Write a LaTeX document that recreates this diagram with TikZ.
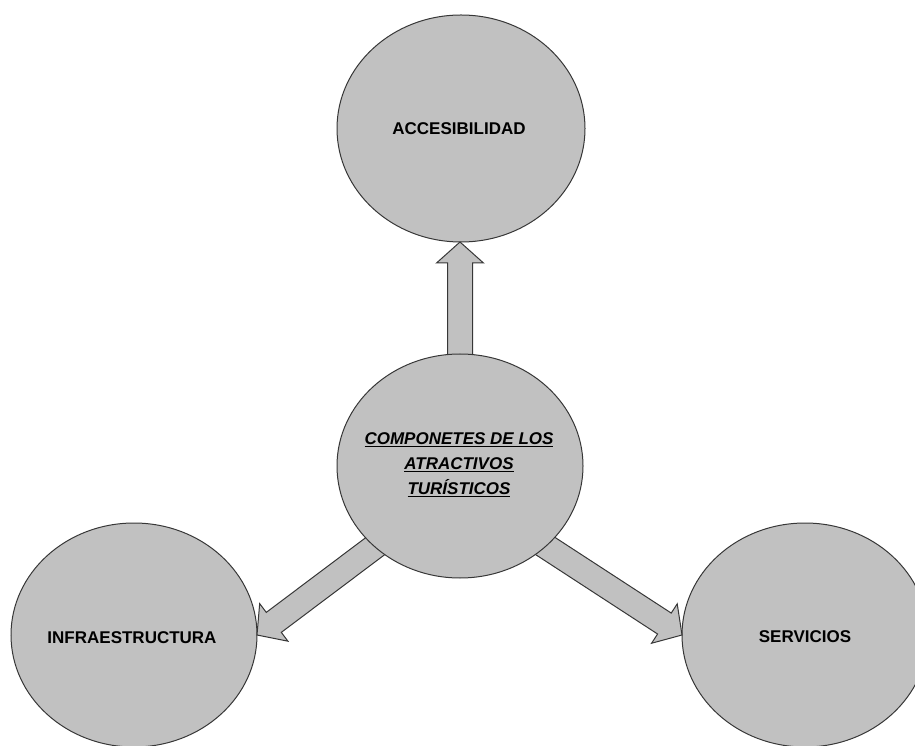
\documentclass[tikz,border=0pt]{standalone}
\usepackage{fontspec}
\setmainfont{Liberation Sans}
\usetikzlibrary{calc}

\definecolor{discfill}{RGB}{193,193,193}
\definecolor{discline}{RGB}{55,55,55}

\tikzset{
  disc/.style={draw=discline, fill=discfill, line width=1pt},
  label/.style={inner sep=0pt, font=\fontsize{17}{25}\selectfont\bfseries, align=center},
  barrow/.style={draw=discline, fill=discfill, line width=1pt, line join=miter},
}

% block arrow from #1 to #2: shaft half-width 12.5pt, head half-width 23.5pt, head length 21pt
\newcommand\blockarrow[2]{%
  \coordinate (bh) at ($(#2)!21pt!(#1)$);
  \draw[barrow]
    ($(#1)!12.5pt!90:(#2)$) -- ($(bh)!12.5pt!90:(#2)$) --
    ($(bh)!23.5pt!90:(#2)$) -- (#2) --
    ($(bh)!23.5pt!-90:(#2)$) -- ($(bh)!12.5pt!-90:(#2)$) --
    ($(#1)!12.5pt!-90:(#2)$) -- cycle;
}

\begin{document}
\begin{tikzpicture}[x=1pt,y=1pt]
  \clip (0,0) rectangle (915,745);

  % outer components
  \draw[disc] (461,616.5) ellipse [x radius=124, y radius=113.5];
  \node[label] (acc) at (459,616) {ACCESIBILIDAD};
  \coordinate (accS) at (460,503);

  \draw[disc] (134,110) ellipse [x radius=123, y radius=112];
  \node[label] (infra) at (132,107) {INFRAESTRUCTURA};
  \coordinate (infraE) at (257,110);

  \draw[disc] (805,110) ellipse [x radius=123, y radius=112];
  \node[label] (serv) at (805,108) {SERVICIOS};
  \coordinate (servW) at (682,110);

  % arrow roots, hidden under the central disc
  \coordinate (o) at (460,279);
  \coordinate (oT) at (460,300);
  \coordinate (oL) at (430,240);
  \coordinate (oR) at (490,235);

  \blockarrow{oT}{accS}
  \blockarrow{oL}{infraE}
  \blockarrow{oR}{servW}

  % central component
  \draw[disc] (o) ellipse [x radius=123, y radius=112];
  \node[label, font=\fontsize{17}{25}\selectfont\bfseries\itshape] (comp) at (459,280)
    {\underline{COMPONETES DE LOS}\\\underline{ATRACTIVOS}\\\underline{TURÍSTICOS}};
\end{tikzpicture}
\end{document}
